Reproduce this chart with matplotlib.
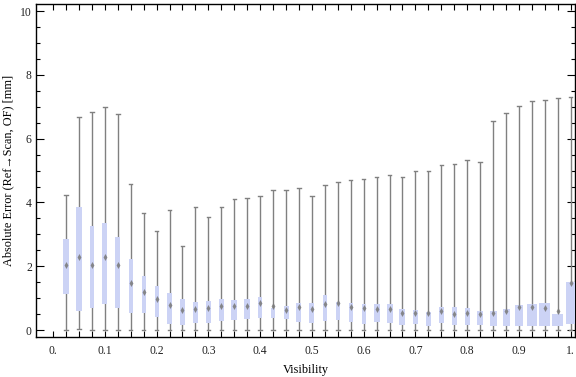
import numpy as np
import matplotlib
matplotlib.use("Agg")
import matplotlib.pyplot as plt
from matplotlib.patches import Rectangle
from matplotlib.path import Path

# ---- data ----
visibility = [round(0.025 * k, 3) for k in range(1, 41)]
whisker_min = [0, 0.04] + [0] * 38
q1 = [1.14, 0.59, 0.70, 0.82, 0.70, 0.54, 0.54, 0.40, 0.20, 0.17,
      0.23, 0.23, 0.29, 0.33, 0.35, 0.39, 0.39, 0.35, 0.26, 0.23,
      0.28, 0.31, 0.25, 0.20, 0.26, 0.23, 0.17, 0.20, 0.13, 0.23,
      0.17, 0.17, 0.17, 0.13, 0.13, 0.13, 0.13, 0.13, 0.13, 0.19]
median = [2.03, 2.28, 2.03, 2.28, 2.03, 1.47, 1.19, 0.97, 0.77, 0.63,
          0.67, 0.69, 0.76, 0.74, 0.76, 0.86, 0.74, 0.64, 0.71, 0.65,
          0.81, 0.86, 0.73, 0.68, 0.65, 0.67, 0.54, 0.53, 0.52, 0.60,
          0.51, 0.52, 0.50, 0.53, 0.61, 0.72, 0.72, 0.70, 0.61, 1.48]
q3 = [2.87, 3.85, 3.25, 3.35, 2.92, 2.23, 1.69, 1.38, 1.16, 0.97,
      0.88, 0.91, 0.97, 0.94, 0.97, 1.02, 0.69, 0.74, 0.85, 0.85,
      1.10, 0.89, 0.85, 0.82, 0.82, 0.82, 0.66, 0.63, 0.56, 0.72,
      0.71, 0.69, 0.60, 0.60, 0.66, 0.78, 0.82, 0.85, 0.50, 1.50]
whisker_max = [4.25, 6.67, 6.85, 7.01, 6.78, 4.57, 3.66, 3.09, 3.75, 2.65,
               3.85, 3.53, 3.85, 4.10, 4.13, 4.19, 4.38, 4.38, 4.44, 4.19,
               4.55, 4.63, 4.72, 4.75, 4.79, 4.85, 4.81, 5.00, 5.00, 5.16,
               5.22, 5.32, 5.26, 6.57, 6.82, 7.04, 7.17, 7.20, 7.29, 7.32]
# relative box widths (as drawn in the reference)
rel_width = [6.7, 5.3, 3.3, 5.0, 4.7, 4.3, 4.0, 4.0, 4.3, 5.5,
             5.8, 5.3, 5.0, 5.7, 6.0, 4.7, 4.7, 5.0, 5.0, 5.0,
             4.3, 4.0, 4.3, 4.3, 6.0, 6.0, 6.0, 5.0, 5.0, 5.0,
             5.0, 5.0, 6.5, 7.0, 7.0, 8.0, 10.0, 11.0, 11.0, 9.0]
xtick_labels = ["0.", "0.1", "0.2", "0.3", "0.4", "0.5", "0.6", "0.7", "0.8", "0.9", "1."]

serif = ["Liberation Serif", "DejaVu Serif"]
plt.rcParams["font.family"] = serif

fig = plt.figure(figsize=(5.76, 3.77), dpi=100)
ax = fig.add_axes([0.0625, 0.106, 0.936, 0.883])

box_color = "#ccd3f5"
wh_color = "#808080"
px_per_unit = 517.6
cap = 3.5 / px_per_unit

diamond = Path([(0, 1), (0.55, 0), (0, -1), (-0.55, 0), (0, 1)],
               [Path.MOVETO, Path.LINETO, Path.LINETO, Path.LINETO, Path.CLOSEPOLY])

for x, lo, a, m, b, hi, w in zip(visibility, whisker_min, q1, median, q3, whisker_max, rel_width):
    ax.plot([x, x], [lo, hi], color=wh_color, lw=1.0, zorder=2, solid_capstyle="butt")
    ax.plot([x - cap / 2, x + cap / 2], [hi, hi], color=wh_color, lw=1.0, zorder=2)
    ax.plot([x - cap / 2, x + cap / 2], [lo, lo], color=wh_color, lw=1.0, zorder=2)
    bw = w / px_per_unit
    ax.add_patch(Rectangle((x - bw / 2, a), bw, b - a, facecolor=box_color,
                           edgecolor="none", zorder=3))
    ax.plot([x], [m], marker=diamond, markersize=5, color="#7d7d7d",
            markeredgewidth=0, alpha=0.9, zorder=4)

ax.set_xlim(-0.033, 1.0085)
ax.set_ylim(-0.22, 10.22)

ax.set_xticks(np.arange(0, 11) / 10)
ax.set_xticklabels(xtick_labels)
ax.set_xticks(np.arange(0, 41) * 0.025, minor=True)
ax.set_yticks(np.arange(0, 11, 2))
ax.set_yticks(np.arange(0, 10.01, 0.5), minor=True)

ax.tick_params(axis="both", which="both", direction="in", top=True, right=True,
               labelsize=8.4, labelcolor="#222222", color="black")
ax.tick_params(axis="x", which="major", length=4, width=0.8, pad=6)
ax.tick_params(axis="x", which="minor", length=4, width=0.8)
ax.tick_params(axis="y", which="major", length=6, width=0.8, pad=3)
ax.tick_params(axis="y", which="minor", length=3, width=0.8)
for s in ax.spines.values():
    s.set_linewidth(1.0)
    s.set_color("black")

ax.set_xlabel("Visibility", fontsize=8.8, labelpad=5)
ax.set_ylabel("Absolute Error (Ref\u2192Scan, OF) [mm]", fontsize=8.8, labelpad=4)

fig.savefig("out.png", dpi=100)
